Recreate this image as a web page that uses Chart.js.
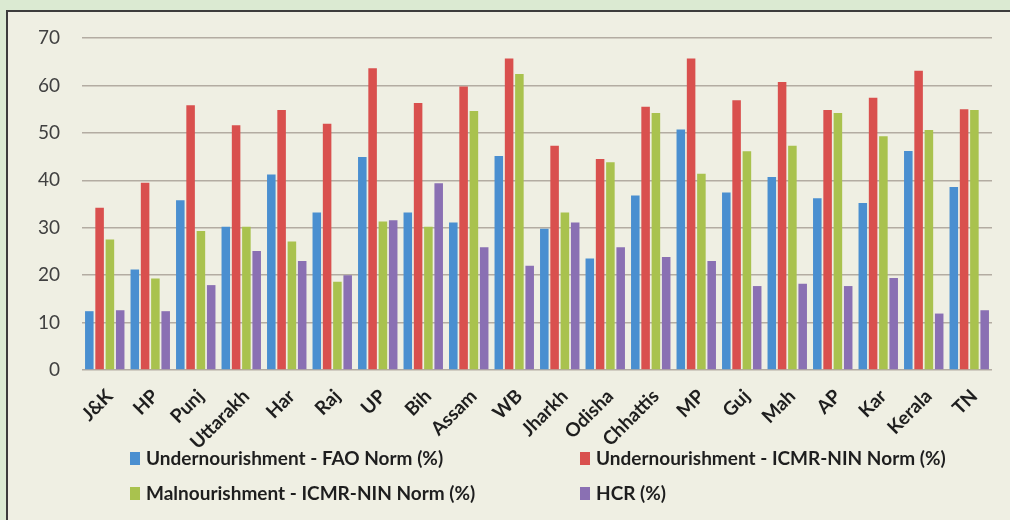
<!DOCTYPE html>
<html>
<head>
<meta charset="utf-8">
<script src="https://cdn.jsdelivr.net/npm/chart.js@4"></script>
<style>
  html, body { margin: 0; padding: 0; }
  body { width: 1010px; height: 520px; background: #dbead2; position: relative; overflow: hidden; }
  #panel { position: absolute; left: 6px; top: 10px; width: 1020px; height: 520px;
           background: #efefe3; border-left: 2px solid #3c3c3c; border-top: 2px solid #3c3c3c; }
  #wrap { position: absolute; left: 0; top: 0; width: 1010px; height: 520px; }
</style>
</head>
<body>
<div id="panel"></div>
<div id="wrap"><canvas id="chart" width="1010" height="520"></canvas></div>
<script>
// States / regions on the x axis
const states = ['J&K', 'HP', 'Punj', 'Uttarakh', 'Har', 'Raj', 'UP', 'Bih', 'Assam', 'WB',
                'Jharkh', 'Odisha', 'Chhattis', 'MP', 'Guj', 'Mah', 'AP', 'Kar', 'Kerala', 'TN'];

// Series values (%)
const underFAO   = [12.4, 21.2, 35.8, 30.2, 41.2, 33.2, 44.9, 33.2, 31.1, 45.1,
                    29.8, 23.5, 36.8, 50.7, 37.4, 40.7, 36.2, 35.2, 46.2, 38.6];
const underICMR  = [34.2, 39.5, 55.8, 51.6, 54.8, 51.9, 63.6, 56.3, 59.8, 65.7,
                    47.3, 44.5, 55.5, 65.7, 56.9, 60.7, 54.8, 57.4, 63.1, 55.0];
const malICMR    = [27.5, 19.3, 29.3, 30.2, 27.1, 18.6, 31.3, 30.2, 54.6, 62.4,
                    33.2, 43.8, 54.2, 41.4, 46.1, 47.3, 54.2, 49.3, 50.6, 54.8];
const hcr        = [12.6, 12.4, 17.9, 25.1, 23.0, 20.0, 31.6, 39.4, 25.9, 22.0,
                    31.1, 25.9, 23.8, 23.0, 17.7, 18.2, 17.7, 19.4, 11.9, 12.6];

// Y axis ticks
const yTicks = [0, 10, 20, 30, 40, 50, 60, 70];

const seriesLabels = ['Undernourishment - FAO Norm (%)', 'Undernourishment - ICMR-NIN Norm (%)',
                      'Malnourishment - ICMR-NIN Norm (%)', 'HCR (%)'];
const seriesColors = ['#4a8fd0', '#d9504e', '#a9c24e', '#8a70b3'];
const seriesData = [underFAO, underICMR, malICMR, hcr];

// Two-column legend laid out in a fixed grid under the axis
const gridLegend = {
  id: 'gridLegend',
  afterDraw(chart) {
    const ctx = chart.ctx;
    const cols = [130, 580];
    const rows = [458, 493];
    ctx.save();
    ctx.font = 'bold 19px Lato';
    ctx.textBaseline = 'middle';
    ctx.textAlign = 'left';
    chart.data.datasets.forEach((ds, i) => {
      const x = cols[i % 2];
      const y = rows[Math.floor(i / 2)];
      ctx.fillStyle = ds.backgroundColor;
      ctx.fillRect(x, y - 6, 10, 13);
      ctx.fillStyle = '#1e1e1e';
      ctx.fillText(ds.label, x + 16, y + 1);
    });
    ctx.restore();
  }
};

new Chart(document.getElementById('chart'), {
  type: 'bar',
  data: {
    labels: states,
    datasets: seriesData.map((d, i) => ({
      label: seriesLabels[i],
      data: d,
      backgroundColor: seriesColors[i],
      borderWidth: 0,
      categoryPercentage: 0.905,
      barPercentage: 0.83
    }))
  },
  options: {
    responsive: false,
    animation: false,
    layout: { padding: { top: 38, right: 18, left: 0, bottom: 0 } },
    plugins: { legend: { display: false }, tooltip: { enabled: false } },
    scales: {
      x: {
        grid: { display: false, drawTicks: false },
        border: { display: false },
        ticks: {
          color: '#1e1e1e',
          font: { family: 'Lato', size: 19, weight: 'bold' },
          minRotation: 45, maxRotation: 45,
          padding: 15,
          labelOffset: 5,
          autoSkip: false
        },
        afterFit(scale) { scale.height = 150; }
      },
      y: {
        min: 0, max: 70,
        afterBuildTicks(scale) { scale.ticks = yTicks.map(v => ({ value: v })); },
        grid: { color: '#b3aca2', lineWidth: 1.5, drawTicks: false },
        border: { display: false },
        ticks: {
          color: '#404040',
          font: { family: 'Lato', size: 19 },
          padding: 22
        },
        afterFit(scale) { scale.width = 82; }
      }
    }
  },
  plugins: [gridLegend]
});
</script>
</body>
</html>
